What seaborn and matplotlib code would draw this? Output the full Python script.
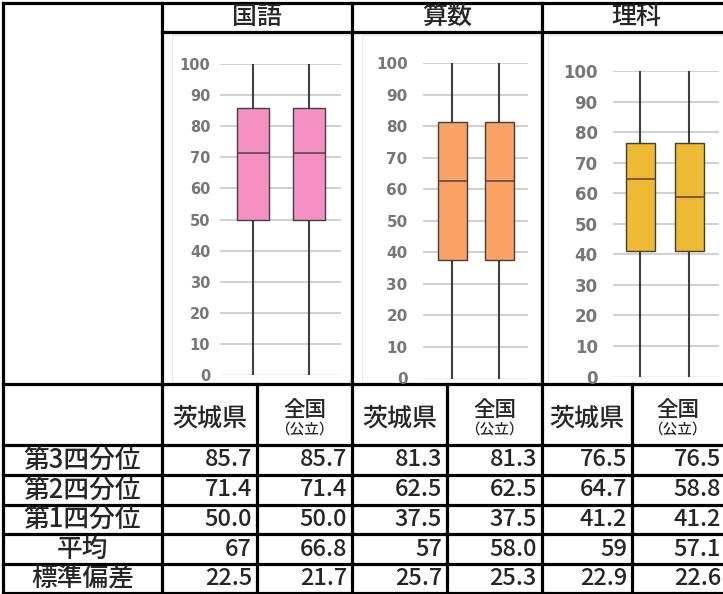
import pandas as pd
import seaborn as sns
import matplotlib.pyplot as plt
from matplotlib.patches import Rectangle

# -----------------------------
# data
# -----------------------------
subjects = ["国語", "算数", "理科"]
regions = ["茨城県", "全国"]
row_labels = ["第3四分位", "第2四分位", "第1四分位", "平均", "標準偏差"]

q3 = [[85.7, 85.7], [81.3, 81.3], [76.5, 76.5]]
q2 = [[71.4, 71.4], [62.5, 62.5], [64.7, 58.8]]
q1 = [[50.0, 50.0], [37.5, 37.5], [41.2, 41.2]]
mean_text = [["67", "66.8"], ["57", "58.0"], ["59", "57.1"]]
sd = [[22.5, 21.7], [25.7, 25.3], [22.9, 22.6]]
score_min = 0
score_max = 100

box_colors = ["#F590C3", "#F9A266", "#EEB933"]

# -----------------------------
# figure + table background
# -----------------------------
sns.set_theme(style="white")
plt.rcParams["font.family"] = ["Noto Sans CJK JP", "DejaVu Sans"]

W, H = 723, 594
fig = plt.figure(figsize=(W / 100, H / 100), dpi=100)
bg = fig.add_axes([0, 0, 1, 1])
bg.set_xlim(0, W)
bg.set_ylim(H, 0)
bg.axis("off")

lw = 2.3
# horizontal rules
for y, x0 in [(3, 3), (32, 162), (384, 3), (445, 3), (475, 3), (505, 3),
              (534, 3), (564, 3), (593, 3)]:
    bg.plot([x0, W], [y, y], color="black", lw=lw, solid_capstyle="projecting")
# vertical rules
for x in [3, 162, 352, 542]:
    bg.plot([x, x], [3, 593], color="black", lw=lw, solid_capstyle="projecting")
for x in [257, 447, 632]:
    bg.plot([x, x], [384, 593], color="black", lw=lw, solid_capstyle="projecting")

# faint frames of the pasted chart images
for x0, x1 in [(172, 350), (362, 540), (548, 723)]:
    bg.add_patch(Rectangle((x0, 35), x1 - x0, 348, fill=False,
                           edgecolor="#e8e8e8", lw=0.8))

tw = "medium"

# headers
for s, cx in zip(subjects, [257, 447, 636]):
    bg.text(cx, 17, s, ha="center", va="center", fontsize=18, fontweight=tw)

sub_cells = [(162, 257), (257, 352), (352, 447), (447, 542), (542, 632), (632, 723)]
for k, (a, b) in enumerate(sub_cells):
    cx = (a + b) / 2
    if k % 2 == 0:
        bg.text(cx, 419, regions[0], ha="center", va="center", fontsize=18, fontweight=tw)
    else:
        bg.text(cx, 410, regions[1], ha="center", va="center", fontsize=15.5, fontweight=tw)
        bg.text(cx, 430, "（公立）", ha="center", va="center", fontsize=10.5, fontweight=tw)

row_y = [460, 490, 519.5, 549, 578.5]
for lab, y in zip(row_labels, row_y):
    bg.text(82.5, y, lab, ha="center", va="center", fontsize=18.5, fontweight=tw)

for i in range(3):
    for j in range(2):
        k = i * 2 + j
        xr = sub_cells[k][1] - 5 if k < 5 else 721
        vals = [f"{q3[i][j]:.1f}", f"{q2[i][j]:.1f}", f"{q1[i][j]:.1f}",
                mean_text[i][j], f"{sd[i][j]:.1f}"]
        for v, y in zip(vals, row_y):
            bg.text(xr, y, v, ha="right", va="center", fontsize=17, fontweight=tw)

# -----------------------------
# box plots
# -----------------------------
# left px, right px, y px of 0, y px of 100, x px of box 1, x px of box 2, box width px, tick size, tick pad
panel_px = [
    (220, 341, 375, 64, 253, 308.5, 32, 10.5, 7),
    (423, 528, 378.5, 63, 452, 499, 29, 11, 11),
    (613, 719, 376.5, 71, 640, 689, 29, 12, 11),
]

for i, (left, right, y0, y100, xa, xb, bw, fs, pad) in enumerate(panel_px):
    ax = fig.add_axes([left / W, 1 - y0 / H, (right - left) / W, (y0 - y100) / H])
    rows = []
    for j, r in enumerate(regions):
        for v in [score_min, q1[i][j], q2[i][j], q3[i][j], score_max]:
            rows.append({"region": r, "score": v})
    df = pd.DataFrame(rows)

    step = xb - xa
    sns.boxplot(data=df, x="region", y="score", order=regions, whis=(0, 100),
                width=bw / step, color=box_colors[i], saturation=1,
                linecolor="#3f3f3f", linewidth=1.0, showcaps=False,
                whiskerprops={"linewidth": 1.5},
                medianprops={"linewidth": 1.1, "color": "#5a4040"}, ax=ax)

    ax.set_xlim((left - xa) / step, (right - xa) / step)
    ax.set_ylim(0, 100)
    ax.set_yticks(range(0, 101, 10))
    ax.set_xticks([])
    ax.set_xlabel("")
    ax.set_ylabel("")
    ax.grid(axis="y", color="#c4c4c4", lw=1.1)
    ax.get_ygridlines()[0].set_color("#ececec")
    ax.set_axisbelow(True)
    for sp in ax.spines.values():
        sp.set_visible(False)
    ax.tick_params(axis="y", length=0, pad=pad, labelsize=fs, labelcolor="#777777")
    for t in ax.get_yticklabels():
        t.set_fontfamily("DejaVu Sans")
        t.set_fontweight("bold")
    ax.patch.set_alpha(0)

fig.savefig("out.png", dpi=100)
